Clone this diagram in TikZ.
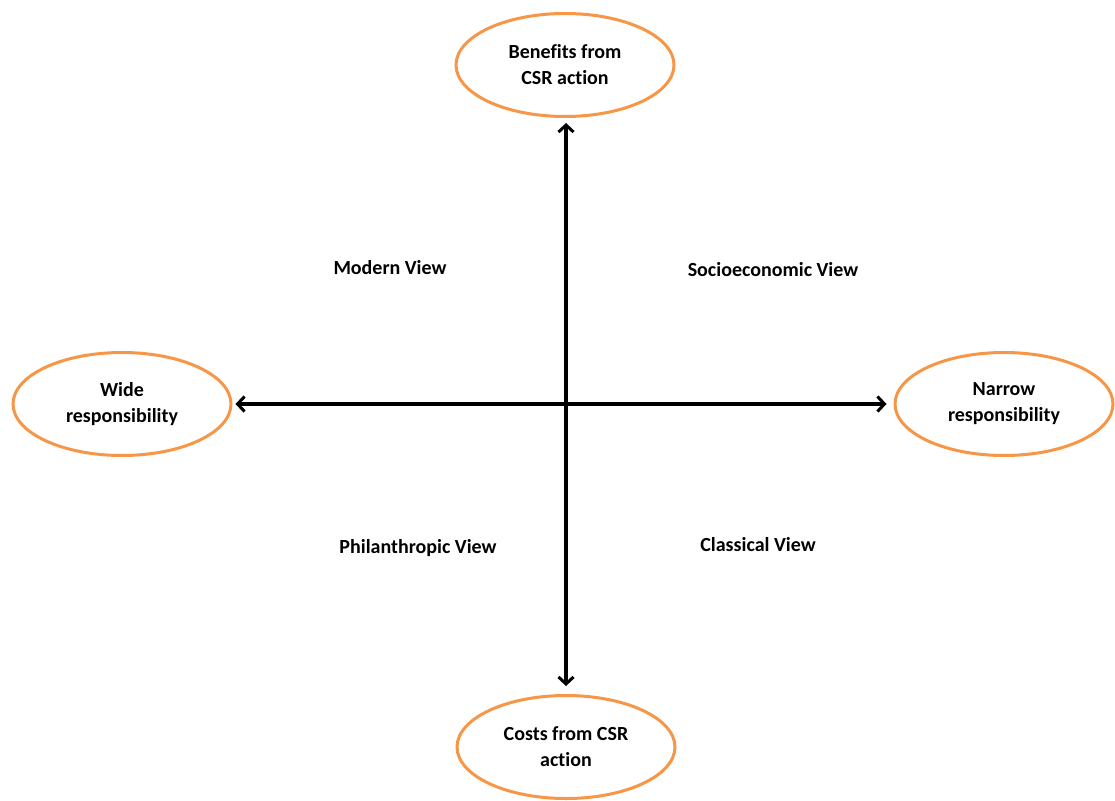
\documentclass[tikz,border=0pt]{standalone}
\usepackage{fontspec}
\setmainfont{Carlito}[Ligatures=NoCommon]
\usetikzlibrary{shapes.geometric,arrows.meta}
\definecolor{csrorange}{HTML}{F79646}
\tikzset{
  pole/.style={ellipse, draw=csrorange, line width=3pt, fill=white,
    minimum width=218pt, minimum height=103pt, inner sep=0pt,
    align=center, font=\bfseries\fontsize{20}{26}\selectfont},
  viewlabel/.style={font=\bfseries\fontsize{20}{24}\selectfont, inner sep=0pt},
  axis/.style={line width=3.6pt, {Straight Barb[length=7pt,width=15pt,line width=3pt]}-{Straight Barb[length=7pt,width=15pt,line width=3pt]}}
}
\begin{document}
\begin{tikzpicture}[x=1pt,y=-1pt]
\useasboundingbox (0,0) rectangle (1115,800);
\node[pole] (top) at (565,65) {Benefits from\\CSR action};
\node[pole] (bot) at (566,747) {Costs from CSR\\action};
\node[pole] (left) at (122,404) {Wide\\responsibility};
\node[pole] (right) at (1004,404) {Narrow\\responsibility};
\draw[axis, shorten <=5pt, shorten >=8pt] (top.south -| 566,0) -- (bot.north -| 566,0);
\draw[axis, shorten <=3pt, shorten >=7pt] (left.east) -- (right.west);
\node[viewlabel] (modern) at (390,268) {Modern View};
\node[viewlabel] (socio) at (773,270) {Socioeconomic View};
\node[viewlabel] (phil) at (418,548) {Philanthropic View};
\node[viewlabel] (classic) at (758,545) {Classical View};
\end{tikzpicture}
\end{document}
